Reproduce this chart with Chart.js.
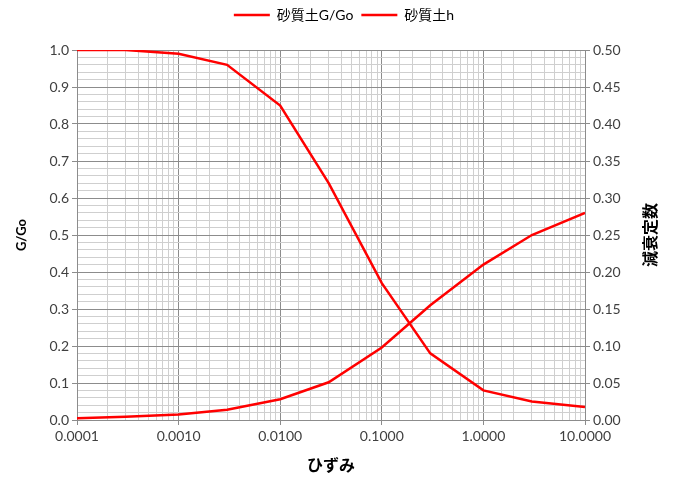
<!DOCTYPE html>
<html>
<head>
<meta charset="utf-8">
<script src="https://cdn.jsdelivr.net/npm/chart.js@4.4.1/dist/chart.umd.min.js"></script>
<style>
  html, body { margin: 0; padding: 0; background: #fff; }
  #wrap { width: 674px; height: 479px; }
</style>
</head>
<body>
<div id="wrap"><canvas id="soilChart"></canvas></div>
<script>
const strain = [0.0001, 0.0003, 0.001, 0.003, 0.01, 0.03, 0.1, 0.3, 1, 3, 10];
const gRatio = [1.0, 1.0, 0.99, 0.96, 0.85, 0.64, 0.37, 0.18, 0.08, 0.05, 0.035];
const damping = [0.0025, 0.0045, 0.0075, 0.014, 0.028, 0.051, 0.098, 0.155, 0.21, 0.25, 0.28];
const seriesNames = ['砂質土G/Go', '砂質土h'];
const xTitle = 'ひずみ';
const yTitle = 'G/Go';
const y2Title = '減衰定数';

const FONT = "Lato, 'Noto Sans CJK JP', sans-serif";
const TEXT = '#404040';
const MAJOR_GRID = '#8c8c8c';
const MINOR_GRID = '#cfcfcf';

function isDecade(v) {
  const l = Math.log10(v);
  return Math.abs(l - Math.round(l)) < 1e-6;
}
function isTenth(v) {
  return Math.abs(v * 10 - Math.round(v * 10)) < 1e-6;
}

// leave a gap below the legend, as in the original
const legendGap = {
  id: 'legendGap',
  beforeInit(chart) {
    const fit = chart.legend.fit;
    chart.legend.fit = function () {
      fit.bind(chart.legend)();
      this.height += 18;
    };
  }
};

// right axis title reads bottom-to-top like the left one
const rightTitle = {
  id: 'rightTitle',
  afterDraw(chart) {
    const ctx = chart.ctx;
    const area = chart.chartArea;
    ctx.save();
    ctx.translate(651, (area.top + area.bottom) / 2);
    ctx.rotate(-Math.PI / 2);
    ctx.font = "bold 16px " + FONT;
    ctx.fillStyle = '#000';
    ctx.textAlign = 'center';
    ctx.textBaseline = 'middle';
    ctx.fillText(y2Title, 0, 0);
    ctx.restore();
  }
};

new Chart(document.getElementById('soilChart'), {
  type: 'line',
  data: {
    datasets: [{
      label: seriesNames[0],
      data: strain.map((x, i) => ({ x: x, y: gRatio[i] })),
      borderColor: '#ff0000',
      backgroundColor: '#ff0000',
      borderWidth: 2.5,
      pointRadius: 0,
      pointStyle: 'line',
      tension: 0,
      yAxisID: 'y'
    }, {
      label: seriesNames[1],
      data: strain.map((x, i) => ({ x: x, y: damping[i] })),
      borderColor: '#ff0000',
      backgroundColor: '#ff0000',
      borderWidth: 2.5,
      pointRadius: 0,
      pointStyle: 'line',
      tension: 0,
      yAxisID: 'y2'
    }]
  },
  options: {
    responsive: true,
    maintainAspectRatio: false,
    animation: false,
    layout: { padding: { top: 0, left: 14, right: 0, bottom: 4 } },
    plugins: {
      legend: {
        position: 'top',
        labels: {
          usePointStyle: true,
          pointStyle: 'line',
          pointStyleWidth: 36,
          boxHeight: 14,
          padding: 8,
          color: '#000',
          font: { family: FONT, size: 14 }
        }
      },
      tooltip: { enabled: false }
    },
    scales: {
      x: {
        type: 'logarithmic',
        min: 0.0001,
        max: 10,
        afterFit: (scale) => { scale.height = 55; },
        grid: {
          color: (c) => isDecade(c.tick.value) ? MAJOR_GRID : MINOR_GRID,
          tickColor: (c) => isDecade(c.tick.value) ? MAJOR_GRID : 'rgba(0,0,0,0)',
          tickLength: 5
        },
        border: { color: MAJOR_GRID, width: 1 },
        ticks: {
          autoSkip: false,
          maxRotation: 0,
          color: TEXT,
          font: { family: FONT, size: 14 },
          callback: (v) => isDecade(v) ? Number(v).toFixed(4) : ''
        },
        title: {
          display: true,
          text: xTitle,
          color: '#000',
          font: { family: FONT, size: 16, weight: 'bold' },
          padding: { top: 6, bottom: 0 }
        }
      },
      y: {
        position: 'left',
        min: 0,
        max: 1.0,
        afterFit: (scale) => { scale.width = 63; },
        grid: {
          color: (c) => isTenth(c.tick.value) ? MAJOR_GRID : MINOR_GRID,
          tickColor: (c) => isTenth(c.tick.value) ? MAJOR_GRID : 'rgba(0,0,0,0)',
          tickLength: 5
        },
        border: { color: MAJOR_GRID, width: 1 },
        ticks: {
          stepSize: 0.02,
          autoSkip: false,
          color: TEXT,
          font: { family: FONT, size: 14 },
          callback: (v) => isTenth(v) ? Number(v).toFixed(1) : ''
        },
        title: {
          display: true,
          text: yTitle,
          color: '#000',
          font: { family: FONT, size: 13, weight: 'bold' },
          padding: { top: 0, bottom: 8 }
        }
      },
      y2: {
        position: 'right',
        min: 0,
        max: 0.5,
        afterFit: (scale) => { scale.width = 89; },
        grid: {
          drawOnChartArea: false,
          color: MAJOR_GRID,
          tickLength: 5
        },
        border: { color: MAJOR_GRID, width: 1 },
        ticks: {
          stepSize: 0.05,
          color: TEXT,
          font: { family: FONT, size: 14 },
          callback: (v) => Number(v).toFixed(2)
        }
      }
    }
  },
  plugins: [legendGap, rightTitle]
});
</script>
</body>
</html>
